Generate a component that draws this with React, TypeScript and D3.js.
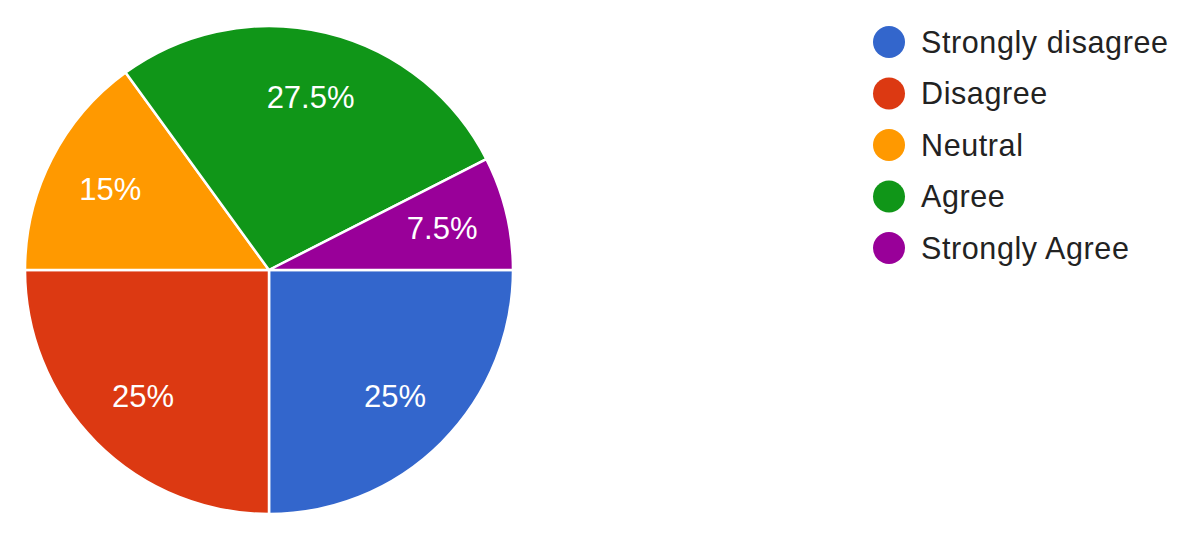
import * as d3 from "d3"
import { useEffect, useRef } from "react"

const categories = ["Strongly disagree", "Disagree", "Neutral", "Agree", "Strongly Agree"]
const percents = [25, 25, 15, 27.5, 7.5]
const labels = ["25%", "25%", "15%", "27.5%", "7.5%"]
const colors = ["#3366cc", "#dc3912", "#ff9900", "#109618", "#990099"]

export default function App() {
    const svgRef = useRef<SVGSVGElement>(null)

    useEffect(() => {
        const width = 1200
        const height = 542
        const cx = 269
        const cy = 270
        const radius = 244

        if (svgRef.current !== null) {
            svgRef.current.innerHTML = ""
        }

        const svg = d3.select(svgRef.current)
            .attr("width", width)
            .attr("height", height)
            .attr("viewBox", [0, 0, width, height])
            .style("font-family", "'Liberation Sans', Arial, sans-serif")

        svg.append("rect").attr("width", width).attr("height", height).attr("fill", "#fff")

        const data = categories.map((c, i) => ({ name: c, value: percents[i], label: labels[i], color: colors[i] }))

        const pie = d3.pie<typeof data[number]>()
            .value(d => d.value)
            .sort(null)
            .startAngle(Math.PI / 2)
            .endAngle(Math.PI / 2 + 2 * Math.PI)

        const arc = d3.arc<d3.PieArcDatum<typeof data[number]>>()
            .innerRadius(0)
            .outerRadius(radius)

        const labelArc = d3.arc<d3.PieArcDatum<typeof data[number]>>()
            .innerRadius(radius * 0.73)
            .outerRadius(radius * 0.73)

        const g = svg.append("g").attr("transform", `translate(${cx},${cy})`)
        const arcs = pie(data)

        g.selectAll("path")
            .data(arcs)
            .join("path")
            .attr("d", arc)
            .attr("fill", d => d.data.color)
            .attr("stroke", "#fff")
            .attr("stroke-width", 2.5)
            .attr("stroke-linejoin", "round")

        g.selectAll("text")
            .data(arcs)
            .join("text")
            .attr("transform", d => `translate(${labelArc.centroid(d)})`)
            .attr("text-anchor", "middle")
            .attr("dy", "0.35em")
            .attr("fill", "#fff")
            .attr("font-size", 31)
            .text(d => d.data.label)

        const legend = svg.append("g")
            .selectAll("g")
            .data(data)
            .join("g")
            .attr("transform", (_, i) => `translate(889, ${42 + i * 51.5})`)

        legend.append("circle")
            .attr("r", 16)
            .attr("fill", d => d.color)

        legend.append("text")
            .attr("x", 32)
            .attr("dy", "0.35em")
            .attr("font-size", 30.5)
            .attr("letter-spacing", 0.6)
            .attr("fill", "#222")
            .text(d => d.name)
    }, [])

    return <>
        <svg ref={svgRef} style={{ position: "absolute", left: 0, top: 0 }}></svg>
    </>
}
